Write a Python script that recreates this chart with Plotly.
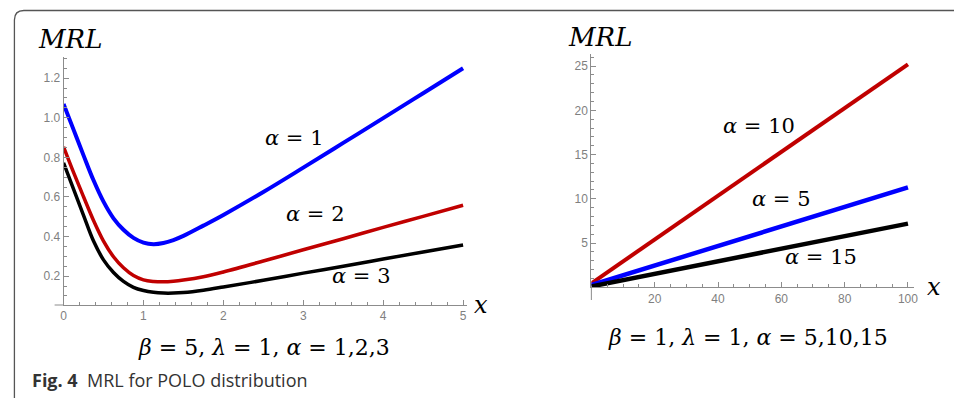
import plotly.graph_objects as go

# left panel: beta=5, lambda=1, alpha=1,2,3
x_left = [0, 0.125, 0.25, 0.375, 0.5, 0.625, 0.75, 0.875, 1.0, 1.125, 1.25, 1.375, 1.5, 1.75, 2.0,
          2.5, 3.0, 3.5, 4.0, 4.5, 5.0]
mrl_a1 = [1.07, 0.94, 0.81, 0.684, 0.576, 0.492, 0.434, 0.393, 0.369, 0.361, 0.367, 0.382, 0.403, 0.455, 0.509,
          0.625, 0.748, 0.873, 0.998, 1.124, 1.25]
mrl_a2 = [0.853, 0.724, 0.601, 0.481, 0.377, 0.298, 0.242, 0.203, 0.181, 0.173, 0.171, 0.174, 0.18, 0.197, 0.221,
          0.276, 0.333, 0.389, 0.446, 0.502, 0.558]
mrl_a3 = [0.772, 0.64, 0.507, 0.377, 0.282, 0.218, 0.173, 0.143, 0.127, 0.118, 0.114, 0.114, 0.117, 0.129, 0.145,
          0.179, 0.215, 0.25, 0.286, 0.322, 0.357]

# right panel: beta=1, lambda=1, alpha=5,10,15
x_right = [0, 20, 40, 60, 80, 100]
mrl_a10 = [0.45, 5.4, 10.35, 15.3, 20.25, 25.2]
mrl_a5 = [0.25, 2.45, 4.65, 6.85, 9.1, 11.3]
mrl_a15 = [0.1, 1.52, 2.94, 4.36, 5.78, 7.2]

W, H = 958, 398
BLUE = '#0000ff'
RED = '#c00000'
MATH = 'DejaVu Serif'
AXGREY = '#8c8c8c'
TICKGREY = '#7f7f7f'


def px(x):
    return x / W


def py(y):
    return 1 - y / H


fig = go.Figure()

for ys, colour, w in [(mrl_a1, BLUE, 4), (mrl_a2, RED, 3.5), (mrl_a3, 'black', 3.5)]:
    fig.add_trace(go.Scatter(x=x_left, y=ys, mode='lines', xaxis='x', yaxis='y',
                             line=dict(color=colour, width=w, shape='spline', smoothing=1)))

for ys, colour, w in [(mrl_a10, RED, 4), (mrl_a5, BLUE, 4.5), (mrl_a15, 'black', 4.5)]:
    fig.add_trace(go.Scatter(x=x_right, y=ys, mode='lines', xaxis='x2', yaxis='y2',
                             line=dict(color=colour, width=w)))

axis_common = dict(showgrid=False, zeroline=False, showline=True, linecolor=AXGREY, linewidth=1,
                   ticks='inside', ticklen=5, tickcolor=AXGREY, tickwidth=1,
                   tickfont=dict(family='Liberation Sans', size=12, color=TICKGREY))

fig.update_layout(
    width=W, height=H, margin=dict(l=0, r=0, t=0, b=0),
    paper_bgcolor='white', plot_bgcolor='rgba(0,0,0,0)', showlegend=False,
    xaxis=dict(axis_common, domain=[px(61), px(467.5)], range=[0, 5.05], anchor='y',
               tickvals=[0, 1, 2, 3, 4, 5], minor=dict(dtick=0.2, ticks='inside', ticklen=3, tickcolor=AXGREY)),
    yaxis=dict(axis_common, domain=[py(305), py(57)], range=[0.054, 1.307], anchor='x',
               tickvals=[0.2, 0.4, 0.6, 0.8, 1.0, 1.2], ticktext=['0.2', '0.4', '0.6', '0.8', '1.0', '1.2'],
               minor=dict(dtick=0.05, tick0=0, ticks='inside', ticklen=3, tickcolor=AXGREY)),
    xaxis2=dict(axis_common, domain=[px(592.7), px(918)], range=[0, 102], anchor='y2',
                tickvals=[20, 40, 60, 80, 100], minor=dict(dtick=5, tick0=0, ticks='inside', ticklen=3, tickcolor=AXGREY)),
    yaxis2=dict(axis_common, domain=[py(287.3), py(53.7)], range=[0, 26.4], anchor='x2',
                tickvals=[5, 10, 15, 20, 25], minor=dict(dtick=1, tick0=0, ticks='inside', ticklen=3, tickcolor=AXGREY)),
)

# axis stubs that run past the origin
fig.add_shape(type='line', xref='paper', yref='paper', x0=px(52), x1=px(61), y0=py(305), y1=py(305),
              line=dict(color=AXGREY, width=1))
fig.add_shape(type='line', xref='paper', yref='paper', x0=px(592.7), x1=px(592.7), y0=py(287.3), y1=py(300),
              line=dict(color=AXGREY, width=1))

# rounded frame round the figure
frame = (f'M {px(11.5)},0 L {px(11.5)},{py(20)} Q {px(11.5)},{py(10.5)} {px(21)},{py(10.5)} L 1,{py(10.5)}')
fig.add_shape(type='path', xref='paper', yref='paper', path=frame, line=dict(color='#555555', width=1.3))


def label(text, x, y, size, anchor='center', family=MATH, color='black'):
    fig.add_annotation(text=text, x=px(x), y=py(y), xref='paper', yref='paper', showarrow=False,
                       xanchor=anchor, yanchor='middle', font=dict(family=family, size=size, color=color))


label('<i>MRL</i>', 67, 39, 26)
label('<i>MRL</i>', 601, 37, 26)
label('<i>x</i>', 482, 305, 24)
label('<i>x</i>', 938, 287, 24)

label('<i>α</i> = 1', 294, 138, 21)
label('<i>α</i> = 2', 315, 214, 21)
label('<i>α</i> = 3', 361, 276, 21)
label('<i>α</i> = 10', 762, 126, 21)
label('<i>α</i> = 5', 784, 199, 21)
label('<i>α</i> = 15', 824, 257, 21)

label('<i>β</i> = 5, <i>λ</i> = 1, <i>α</i> = 1,2,3', 263, 347, 22)
label('<i>β</i> = 1, <i>λ</i> = 1, <i>α</i> = 5,10,15', 750, 337, 22)

label('<b>Fig. 4</b>  MRL for POLO distribution', 27, 380, 18, anchor='left', family='Open Sans', color='#333333')

# drop the browser's default page margin so the figure sits at the window corner
fig.write_html('out.html', config={'displayModeBar': False},
               post_script="document.body.style.margin='0';")
